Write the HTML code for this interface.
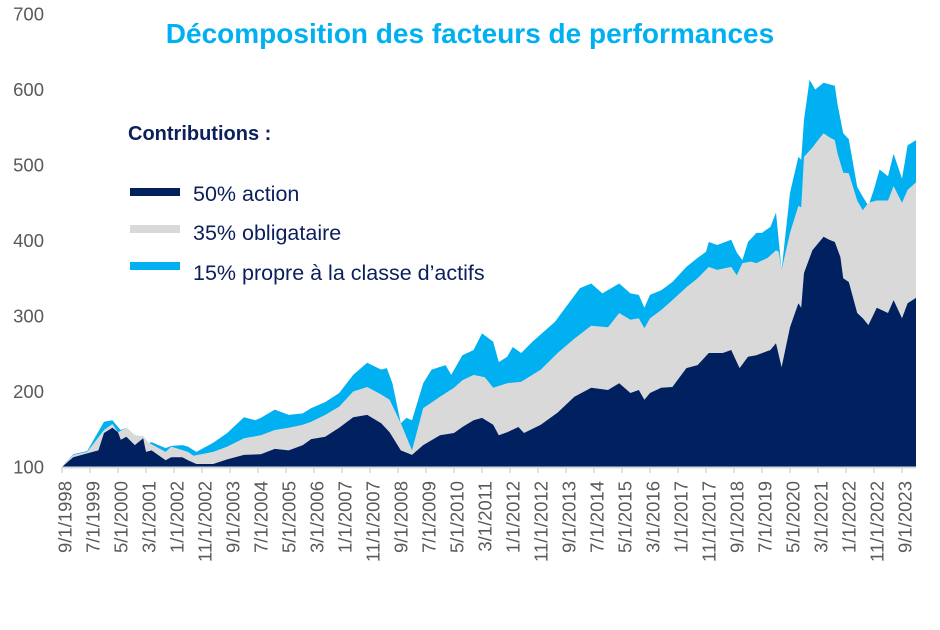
<!DOCTYPE html>
<html><head><meta charset="utf-8">
<style>
body{margin:0;background:#fff;}
svg{display:block;font-family:"Liberation Sans",sans-serif;}
</style></head>
<body>
<svg id="chart" width="940" height="630">
<text x="470" y="43" text-anchor="middle" font-size="28" font-weight="bold" fill="#00B0F0">Décomposition des facteurs de performances</text>
<g id="plot"></g>
<g id="yaxis"></g>
<g id="xaxis"></g>
<g>
<text x="128" y="140" font-size="20" font-weight="bold" fill="#0B1F5C">Contributions :</text>
<g><rect x="130" y="188" width="50" height="8" fill="#002060"/><text x="193" y="201" font-size="21.5" fill="#0B1F5C">50% action</text></g>
<g><rect x="130" y="225" width="50" height="8" fill="#D9D9D9"/><text x="193" y="240" font-size="21.5" fill="#0B1F5C">35% obligataire</text></g>
<g><rect x="130" y="262" width="50" height="8" fill="#00B0F0"/><text x="193" y="280" font-size="21.5" fill="#0B1F5C">15% propre à la classe d’actifs</text></g>
</g>
</svg>
<script>
// months since 9/1/1998, stacked top levels
const totalMonths=[0,4,9,15,18,20,21,23,26,29,30,32,37,39,43,45,48,54,59,65,69,71,76,81,86,89,94,99,104,109,114,116,118,121,123,125,129,132,137,139,143,147,150,154,156,159,161,164,168,176,180,185,189,193,199,203,206,208,210,214,218,223,227,230,231,234,239,241,243,245,248,250,253,255,257,260,263,264,265,267,269,272,274,276,277,279,281,284,286,288,290,292,295,297,300,302,305];
const totalValues=[100,117,121,160,162,153,149,152,142,140,130,133,125,128,129,127,120,132,145,166,162,165,176,169,171,178,186,198,222,238,229,231,211,158,165,162,211,229,235,222,248,255,277,266,239,246,259,251,266,292,312,337,343,330,343,330,328,311,328,334,345,365,377,385,398,394,401,384,374,398,410,410,418,437,361,463,511,507,560,613,600,609,607,605,580,542,534,471,458,446,468,494,485,515,482,526,533];
const obligMonths=[0,4,9,15,18,20,23,26,29,31,37,39,45,47,54,59,65,71,76,81,86,89,94,99,104,109,114,117,121,125,129,135,140,143,147,151,154,159,164,171,177,183,189,195,199,203,206,208,210,214,218,223,227,231,234,239,241,243,246,248,252,255,256,257,260,263,264,265,268,270,272,274,276,277,279,281,284,286,288,291,295,297,300,302,305];
const obligValues=[100,116,120,149,157,146,152,142,141,132,120,127,120,115,120,127,138,142,149,152,156,160,169,180,200,206,196,189,158,122,178,193,205,215,222,219,205,211,213,229,251,270,287,285,304,295,297,284,297,308,321,338,350,365,361,365,354,370,372,370,377,387,385,361,410,446,444,511,523,533,542,537,533,515,490,489,453,440,450,453,453,472,450,467,477];
const actionMonths=[0,4,9,13,15,18,20,21,23,26,29,30,32,37,39,43,45,48,54,59,65,71,76,81,86,89,94,99,104,109,114,117,121,125,129,135,140,143,147,150,154,156,159,163,165,171,177,183,189,195,199,203,206,208,210,214,218,223,227,231,236,239,241,242,245,248,253,255,257,260,263,264,265,268,272,274,276,278,279,281,284,286,288,291,295,297,300,302,305];
const actionValues=[100,113,118,122,145,152,146,136,140,129,138,120,122,109,113,113,109,104,104,110,116,117,124,122,129,137,140,152,166,169,158,146,122,116,129,142,145,153,162,165,156,142,146,153,145,156,172,193,205,202,211,198,202,189,198,205,206,231,235,251,251,255,239,231,246,248,255,264,232,285,317,311,357,387,405,401,398,378,350,345,304,297,288,311,304,321,297,317,324];
const yTicks=[100,200,300,400,500,600,700];
const xTickLabels=["9/1/1998","7/1/1999","5/1/2000","3/1/2001","1/1/2002","11/1/2002","9/1/2003","7/1/2004","5/1/2005","3/1/2006","1/1/2007","11/1/2007","9/1/2008","7/1/2009","5/1/2010","3/1/2011","1/1/2012","11/1/2012","9/1/2013","7/1/2014","5/1/2015","3/1/2016","1/1/2017","11/1/2017","9/1/2018","7/1/2019","5/1/2020","3/1/2021","1/1/2022","11/1/2022","9/1/2023"];

const NS="http://www.w3.org/2000/svg";
const X0=62,PXM=2.8,Y100=467,PXU=453/600;
const xs=m=>X0+m*PXM;
const ys=v=>Y100-(v-100)*PXU;
const plot=document.getElementById('plot');
function area(ms,vs,color,name){
  let d='M'+xs(ms[0])+','+ys(100);
  for(let i=0;i<ms.length;i++)d+='L'+xs(ms[i]).toFixed(1)+','+ys(vs[i]).toFixed(1);
  d+='L'+xs(ms[ms.length-1])+','+ys(100)+'Z';
  const p=document.createElementNS(NS,'path');
  p.setAttribute('d',d);p.setAttribute('fill',color);
  
  
  plot.appendChild(p);
}
area(totalMonths,totalValues,'#00B0F0','area-propre');
area(obligMonths,obligValues,'#D9D9D9','area-obligataire');
area(actionMonths,actionValues,'#002060','area-action');

const ya=document.getElementById('yaxis');
yTicks.forEach(v=>{
  const t=document.createElementNS(NS,'text');
  t.setAttribute('x',44);t.setAttribute('y',ys(v)+6.5);
  t.setAttribute('text-anchor','end');t.setAttribute('font-size','18.5');t.setAttribute('fill','#595959');
  t.textContent=v;
  
  
  ya.appendChild(t);
});
const xa=document.getElementById('xaxis');
const ax=document.createElementNS(NS,'line');
ax.setAttribute('x1',X0);ax.setAttribute('x2',916);ax.setAttribute('y1',467.5);ax.setAttribute('y2',467.5);
ax.setAttribute('stroke','#D9D9D9');ax.setAttribute('stroke-width','2');


xa.appendChild(ax);
xTickLabels.forEach((lab,i)=>{
  const x=xs(i*10);
  const tk=document.createElementNS(NS,'line');
  tk.setAttribute('x1',x);tk.setAttribute('x2',x);tk.setAttribute('y1',467);tk.setAttribute('y2',473);
  tk.setAttribute('stroke','#D9D9D9');tk.setAttribute('stroke-width','1.5');
  
  
  xa.appendChild(tk);
  const t=document.createElementNS(NS,'text');
  t.setAttribute('transform','translate('+(x+9.5)+',481) rotate(-90)');
  t.setAttribute('text-anchor','end');t.setAttribute('font-size','18.5');t.setAttribute('fill','#595959');
  t.textContent=lab;
  
  
  xa.appendChild(t);
});
</script>
</body></html>
